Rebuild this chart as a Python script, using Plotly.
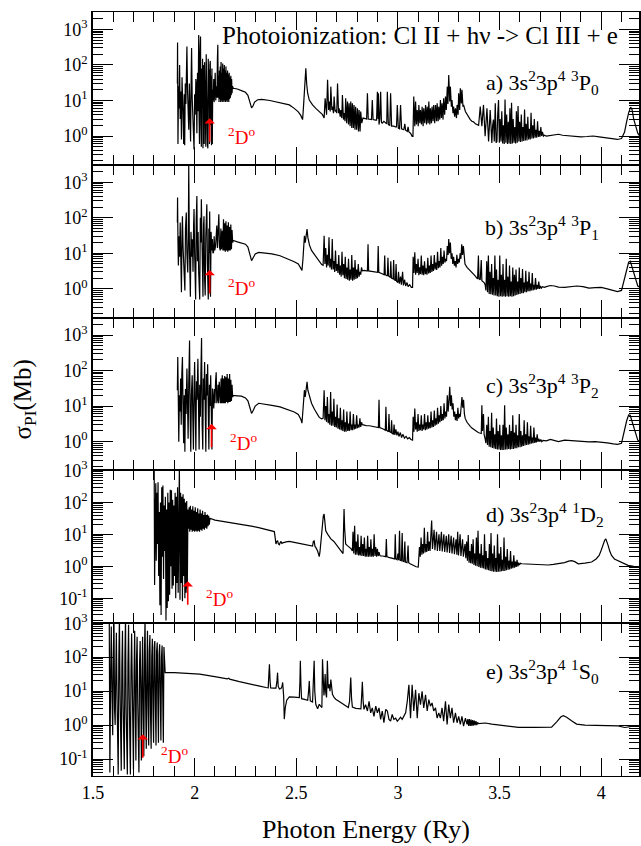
import plotly.graph_objects as go
from plotly.subplots import make_subplots

# ---------------- data: photon energy (Ry), cross section sigma_PI (Mb) ----------------
panel_a = [
    (1.915, 30), (1.916, 430), (1.918, 0.6), (1.921, 25), (1.923, 6), (1.926, 100), (1.929, 3), (1.932, 18),
    (1.935, 0.8), (1.938, 45), (1.940, 25), (1.943, 4), (1.946, 0.6), (1.949, 15), (1.951, 0.55), (1.954, 30),
    (1.957, 8), (1.960, 60), (1.962, 330), (1.965, 20), (1.968, 4), (1.971, 1.5), (1.974, 30), (1.977, 6),
    (1.980, 0.7), (1.983, 50), (1.985, 300), (1.988, 12), (1.991, 2), (1.994, 0.5), (1.997, 0.42), (2.000, 15),
    (2.003, 4), (2.006, 40), (2.008, 30), (2.011, 1.2), (2.014, 60), (2.017, 5), (2.020, 700), (2.022, 3),
    (2.024, 0.6), (2.026, 200), (2.029, 630), (2.031, 2), (2.033, 0.5), (2.035, 80), (2.037, 6), (2.039, 150),
    (2.041, 0.45), (2.043, 40), (2.045, 100), (2.047, 0.6), (2.049, 120), (2.051, 3), (2.053, 60), (2.055, 0.5),
    (2.057, 200), (2.059, 8), (2.061, 90), (2.063, 0.6), (2.065, 0.45), (2.067, 150), (2.069, 20), (2.071, 74),
    (2.073, 0.6), (2.075, 100), (2.077, 130), (2.079, 2), (2.081, 50), (2.083, 0.55), (2.085, 80), (2.087, 0.6),
    (2.089, 20), (2.091, 10), (2.094, 40), (2.096, 9), (2.098, 15), (2.101, 60), (2.104, 10), (2.107, 25),
    (2.110, 12), (2.112, 150), (2.114, 370), (2.116, 12), (2.118, 50), (2.120, 9), (2.122, 70), (2.124, 11),
    (2.126, 90), (2.128, 9), (2.130, 120), (2.132, 10), (2.134, 60), (2.136, 9), (2.138, 110), (2.140, 10),
    (2.142, 80), (2.144, 9), (2.146, 100), (2.148, 10), (2.150, 70), (2.152, 9), (2.154, 90), (2.156, 10),
    (2.158, 60), (2.160, 9), (2.162, 70), (2.164, 10), (2.166, 55), (2.168, 9), (2.170, 60), (2.172, 11),
    (2.174, 45), (2.176, 12), (2.178, 50), (2.180, 14), (2.182, 40), (2.184, 16), (2.186, 25),
    (2.190, 22), (2.21, 21), (2.23, 19), (2.25, 17), (2.262, 14), (2.272, 9), (2.280, 6.2), (2.287, 7),
    (2.295, 9), (2.31, 10.5), (2.33, 10.7), (2.37, 10), (2.41, 9), (2.45, 7.8), (2.466, 7.5), (2.49, 6.0),
    (2.51, 4.8), (2.522, 3.8), (2.531, 2.9), (2.535, 6), (2.539, 16), (2.543, 30), (2.547, 80), (2.551, 30),
    (2.556, 16), (2.564, 10.3), (2.58, 7.5), (2.596, 6), (2.612, 4.8), (2.629, 4.0), (2.637, 3.2),
    (2.642, 11.6), (2.649, 4.0), (2.654, 38), (2.659, 5.4), (2.662, 9.3), (2.667, 4.9), (2.670, 24.5), (2.675, 5.4),
    (2.678, 6.7), (2.683, 4.4), (2.686, 12.9), (2.691, 4.9), (2.694, 5.4), (2.699, 4.4), (2.703, 30), (2.708, 4.4),
    (2.711, 6.0), (2.716, 3.5), (2.719, 5.4), (2.724, 3.2), (2.727, 14.3), (2.732, 2.9), (2.735, 4.4), (2.740, 2.6),
    (2.743, 11.6), (2.748, 2.3), (2.752, 9.3), (2.757, 2.1), (2.760, 8.3), (2.765, 1.9), (2.768, 9.3), (2.773, 1.67),
    (2.776, 8.3), (2.781, 1.67), (2.784, 7.5), (2.789, 1.5), (2.792, 6.7), (2.797, 1.5), (2.801, 6.0), (2.806, 1.35),
    (2.809, 5.4), (2.814, 1.35), (2.817, 4.9), (2.822, 2.3), (2.828, 3.2),
    (2.840, 3.1), (2.846, 3.0), (2.850, 16), (2.854, 3.0), (2.865, 2.95), (2.870, 2.9), (2.874, 10.3), (2.878, 2.9),
    (2.890, 2.8), (2.895, 2.8), (2.899, 17.7), (2.902, 3), (2.904, 16), (2.907, 2.1), (2.911, 3), (2.915, 17.7),
    (2.919, 2.4), (2.923, 2.3), (2.931, 2.6), (2.940, 2.3), (2.945, 2.2), (2.948, 17.7), (2.953, 2.1), (2.960, 2.0),
    (2.964, 16), (2.969, 1.9), (2.975, 1.9), (2.980, 1.9), (2.988, 1.8), (2.993, 1.8), (2.997, 7.5), (3.002, 1.67),
    (3.008, 1.6), (3.013, 7.5), (3.018, 1.6), (3.024, 1.55), (3.029, 1.5), (3.034, 2.2), (3.038, 1.45), (3.046, 1.35),
    (3.050, 1.8), (3.054, 1.3), (3.062, 1.2), (3.070, 0.98),
    (3.074, 0.98), (3.078, 12.9), (3.083, 1.9), (3.087, 9.3), (3.091, 2.1), (3.095, 5.4), (3.100, 1.9), (3.103, 7.5),
    (3.108, 2.3), (3.111, 5.4), (3.116, 2.1), (3.119, 6.7), (3.124, 1.9), (3.127, 6.0), (3.132, 2.3), (3.136, 7.5),
    (3.141, 2.1), (3.144, 6.7), (3.149, 2.3), (3.152, 9.3), (3.157, 2.1), (3.160, 6.0), (3.165, 2.3), (3.168, 6.7),
    (3.173, 2.6), (3.176, 7.5), (3.181, 2.3), (3.185, 7.5), (3.190, 2.6), (3.193, 8.3), (3.198, 2.6), (3.201, 6.7),
    (3.206, 2.9), (3.209, 10.3), (3.214, 3.2), (3.217, 8.3), (3.222, 2.9), (3.225, 11.6), (3.230, 4.0), (3.234, 12.9),
    (3.238, 5.4), (3.243, 24.5), (3.246, 8), (3.250, 52), (3.255, 9.3), (3.258, 24.5), (3.263, 6.7), (3.266, 10.3),
    (3.271, 4.4), (3.274, 6.7), (3.279, 3.5), (3.283, 6.0), (3.288, 3.2), (3.291, 7.5), (3.296, 4.0), (3.299, 16),
    (3.304, 5.4), (3.307, 22), (3.312, 8.3), (3.315, 20), (3.320, 6.7), (3.323, 7.5), (3.332, 4.9), (3.340, 4.0),
    (3.348, 3.4), (3.356, 2.9), (3.364, 2.6), (3.372, 2.5), (3.381, 2.2), (3.389, 2.1), (3.397, 2.0), (3.405, 6.7),
    (3.410, 1.9), (3.413, 1.9), (3.421, 7.5), (3.426, 1.35), (3.429, 0.98), (3.438, 6.0), (3.443, 0.72), (3.446, 0.7),
    (3.454, 5.4), (3.459, 0.64), (3.462, 0.64), (3.466, 2), (3.470, 2.9), (3.474, 0.7), (3.479, 8.3), (3.483, 0.65),
    (3.487, 0.7), (3.491, 4), (3.495, 10.3),
    (3.499, 0.65), (3.503, 3), (3.507, 0.7), (3.511, 5), (3.515, 0.62), (3.519, 2), (3.523, 0.6), (3.527, 10.7),
    (3.531, 0.65), (3.535, 4), (3.539, 0.6), (3.543, 2.5), (3.547, 0.62), (3.551, 6), (3.555, 0.6), (3.559, 8.6),
    (3.563, 0.62), (3.567, 3), (3.571, 0.65), (3.575, 1.8), (3.579, 0.62), (3.583, 5), (3.587, 0.65), (3.591, 7),
    (3.595, 0.7), (3.599, 2.5), (3.603, 0.68), (3.607, 4), (3.611, 0.7), (3.615, 1.8), (3.619, 0.72), (3.623, 5.6),
    (3.627, 0.75), (3.631, 2.2), (3.635, 0.75), (3.639, 3.5), (3.643, 0.8), (3.647, 1.6), (3.651, 0.8), (3.655, 4.5),
    (3.659, 0.85), (3.663, 2), (3.667, 0.85), (3.671, 3), (3.675, 0.9), (3.679, 1.5), (3.683, 0.9), (3.687, 2.6),
    (3.691, 0.95), (3.695, 1.4), (3.699, 0.95), (3.703, 1.8), (3.707, 1.0), (3.711, 1.3), (3.716, 1.0), (3.720, 1.05),
    (3.73, 1.0), (3.75, 1.05), (3.77, 1.1), (3.79, 1.12), (3.81, 1.05), (3.84, 1.0), (3.87, 0.98), (3.90, 0.95),
    (3.93, 0.97), (3.96, 1.0), (3.99, 0.95), (4.02, 0.9), (4.05, 0.85), (4.08, 0.8), (4.10, 0.85), (4.115, 1.3),
    (4.125, 2.5), (4.135, 4.5), (4.145, 6.5), (4.152, 5.5), (4.16, 3), (4.17, 1.8), (4.18, 1.2), (4.19, 1.0),
]

panel_b = [
    (1.915, 74), (1.916, 370), (1.918, 20), (1.920, 4.5), (1.923, 30), (1.926, 8), (1.929, 74), (1.932, 3),
    (1.935, 0.8), (1.938, 40), (1.940, 110), (1.943, 15), (1.946, 7), (1.949, 2), (1.952, 0.9), (1.955, 50),
    (1.959, 140), (1.962, 10), (1.966, 2.9), (1.969, 30), (1.971, 3000), (1.974, 20), (1.977, 2), (1.979, 0.6),
    (1.982, 40), (1.986, 8), (1.989, 25), (1.992, 3), (1.995, 60), (1.997, 175), (2.000, 10), (2.003, 1.5),
    (2.005, 0.5), (2.008, 90), (2.011, 410), (2.014, 6), (2.017, 40), (2.020, 2.9), (2.022, 0.7), (2.025, 0.5),
    (2.028, 100), (2.031, 20), (2.033, 330), (2.036, 4), (2.039, 0.7), (2.041, 0.6), (2.044, 60), (2.046, 110),
    (2.049, 2), (2.052, 0.65), (2.055, 30), (2.058, 120), (2.060, 240), (2.063, 5), (2.065, 0.6), (2.067, 0.5),
    (2.070, 50), (2.072, 10), (2.074, 150), (2.076, 1.5), (2.078, 0.6), (2.081, 40), (2.084, 12), (2.087, 25),
    (2.090, 10), (2.093, 10.7), (2.096, 30), (2.099, 12), (2.103, 16), (2.106, 40), (2.109, 60), (2.112, 14),
    (2.115, 40), (2.119, 125), (2.122, 15), (2.126, 12), (2.129, 50), (2.132, 13), (2.136, 43), (2.139, 12),
    (2.142, 90), (2.145, 12), (2.148, 70), (2.151, 11), (2.154, 80), (2.157, 12), (2.160, 60), (2.163, 11),
    (2.166, 75), (2.169, 12), (2.172, 55), (2.175, 12), (2.178, 65), (2.181, 13), (2.184, 45), (2.187, 20),
    (2.190, 23), (2.21, 21), (2.23, 19.5), (2.25, 18), (2.262, 15), (2.272, 9), (2.280, 6.2), (2.288, 7.5),
    (2.298, 9.5), (2.315, 10.6), (2.34, 10.4), (2.38, 9.6), (2.42, 8.5), (2.46, 7), (2.49, 5.8), (2.51, 5),
    (2.523, 3.8), (2.528, 3.3), (2.533, 7), (2.537, 22), (2.540, 31), (2.544, 20), (2.548, 28), (2.553, 48),
    (2.557, 28), (2.565, 17), (2.575, 12), (2.59, 9), (2.605, 7), (2.613, 6.2), (2.625, 4.8), (2.632, 4.6),
    (2.637, 31), (2.641, 5), (2.645, 14), (2.649, 4), (2.653, 9), (2.657, 4.5), (2.661, 28), (2.665, 4),
    (2.669, 7), (2.673, 3.5), (2.677, 25), (2.681, 3.5), (2.685, 6), (2.689, 3), (2.693, 12), (2.697, 3.2),
    (2.701, 5), (2.705, 2.8), (2.709, 9), (2.713, 2.5), (2.717, 4.5), (2.721, 2.2), (2.725, 11), (2.729, 2.4),
    (2.733, 5), (2.737, 2), (2.741, 8), (2.745, 1.9), (2.749, 4), (2.753, 1.8), (2.757, 7), (2.761, 1.7),
    (2.765, 3.5), (2.769, 1.8), (2.773, 9), (2.777, 1.7), (2.781, 4), (2.785, 1.8), (2.789, 6.5), (2.793, 1.9),
    (2.797, 3.5), (2.801, 2), (2.805, 5), (2.809, 2.2), (2.813, 3), (2.817, 2.5), (2.821, 4), (2.825, 3.2),
    (2.835, 3.3), (2.845, 3.2), (2.850, 3.2), (2.853, 18), (2.856, 3.2), (2.870, 3.1), (2.885, 3.0), (2.900, 2.9),
    (2.903, 16), (2.906, 2.9), (2.920, 2.7), (2.932, 2.5), (2.935, 8.6), (2.938, 2.5), (2.948, 2.3), (2.951, 7.5),
    (2.954, 2.3), (2.962, 2.1), (2.965, 6), (2.968, 2.0), (2.976, 1.9), (2.979, 6.5), (2.982, 1.8), (2.988, 1.7),
    (2.991, 5), (2.994, 1.6), (3.000, 1.5), (3.003, 3), (3.007, 1.4), (3.013, 2.2), (3.017, 1.3), (3.023, 3),
    (3.027, 1.25), (3.033, 1.8), (3.038, 1.2), (3.045, 1.5), (3.050, 1.15), (3.058, 1.3), (3.066, 1.1), (3.072, 1.1),
    (3.075, 8), (3.079, 2.8), (3.083, 10.7), (3.087, 2.5), (3.091, 5), (3.095, 2.8), (3.099, 7), (3.103, 2.4),
    (3.107, 4), (3.111, 2.6), (3.115, 8.6), (3.119, 2.5), (3.123, 4.5), (3.127, 2.4), (3.131, 6), (3.135, 2.6),
    (3.139, 3.8), (3.143, 2.5), (3.147, 7.5), (3.151, 2.7), (3.155, 4.5), (3.159, 2.8), (3.163, 8.6), (3.167, 3),
    (3.171, 5), (3.175, 3.2), (3.179, 9), (3.183, 3.5), (3.187, 5.5), (3.191, 3.4), (3.195, 11), (3.199, 3.8),
    (3.203, 6), (3.207, 4), (3.211, 14), (3.215, 4.5), (3.219, 8), (3.223, 5), (3.227, 12), (3.231, 5.5),
    (3.235, 7), (3.239, 6), (3.243, 16), (3.247, 9), (3.250, 25), (3.254, 10), (3.258, 20), (3.262, 7),
    (3.266, 10), (3.270, 5), (3.274, 8), (3.278, 4.5), (3.282, 6), (3.286, 4), (3.290, 9), (3.294, 5),
    (3.298, 7), (3.302, 5.5), (3.306, 10), (3.310, 7), (3.314, 18), (3.318, 9), (3.322, 16), (3.326, 7),
    (3.330, 5), (3.340, 4.0), (3.348, 3.6), (3.356, 3.3), (3.364, 3), (3.372, 2.6), (3.380, 2.3), (3.388, 2.0),
    (3.392, 1.9), (3.396, 8.6), (3.399, 1.9), (3.405, 1.8), (3.410, 6.5), (3.413, 1.7), (3.418, 1.6), (3.424, 1.5),
    (3.429, 1.3),
    (3.433, 0.9), (3.437, 6), (3.441, 0.8), (3.445, 8.6), (3.449, 0.72), (3.453, 3), (3.457, 0.7), (3.461, 5),
    (3.465, 0.68), (3.469, 2), (3.473, 0.65), (3.477, 8.6), (3.481, 0.65), (3.485, 3.5), (3.489, 0.62), (3.493, 1.8),
    (3.497, 0.6), (3.501, 8.6), (3.505, 0.62), (3.509, 2.5), (3.513, 0.6), (3.517, 5), (3.521, 0.62), (3.525, 1.8),
    (3.529, 0.6), (3.533, 7), (3.537, 0.62), (3.541, 2.2), (3.545, 0.6), (3.549, 4.5), (3.553, 0.62), (3.557, 1.6),
    (3.561, 0.6), (3.565, 4), (3.569, 0.62), (3.573, 2.5), (3.577, 0.65), (3.581, 3.5), (3.585, 0.67), (3.589, 1.6),
    (3.593, 0.7), (3.597, 4), (3.601, 0.72), (3.605, 2), (3.609, 0.75), (3.613, 3.6), (3.617, 0.75), (3.621, 1.5),
    (3.625, 0.8), (3.629, 3.2), (3.633, 0.8), (3.637, 1.6), (3.641, 0.85), (3.645, 3), (3.649, 0.85), (3.653, 1.4),
    (3.657, 0.9), (3.661, 2.8), (3.665, 0.9), (3.669, 1.3), (3.673, 0.95), (3.677, 2.0), (3.681, 0.95), (3.685, 1.3),
    (3.689, 1.0), (3.693, 1.6), (3.697, 1.0), (3.701, 1.2), (3.706, 1.05), (3.711, 1.15), (3.716, 1.1), (3.72, 1.1),
    (3.73, 1.15), (3.75, 1.24), (3.77, 1.2), (3.79, 1.12), (3.82, 1.1), (3.85, 1.15), (3.88, 1.2), (3.91, 1.15),
    (3.94, 1.05), (3.97, 1.08), (4.00, 1.1), (4.03, 1.0), (4.06, 0.9), (4.08, 0.84), (4.10, 0.9), (4.115, 1.9),
    (4.125, 3.5), (4.135, 5.6), (4.143, 6), (4.150, 4.5), (4.16, 2.9), (4.17, 1.8), (4.18, 1.2), (4.19, 1.1),
]

panel_c = [
    (1.915, 28), (1.917, 240), (1.920, 10), (1.922, 1.0), (1.925, 20), (1.928, 7), (1.931, 60), (1.934, 3),
    (1.937, 80), (1.940, 240), (1.943, 8), (1.946, 0.9), (1.949, 20), (1.952, 0.52), (1.955, 30), (1.958, 6),
    (1.962, 115), (1.965, 12), (1.968, 1.2), (1.971, 40), (1.975, 700), (1.978, 5), (1.981, 0.52), (1.984, 20),
    (1.988, 74), (1.991, 5), (1.994, 0.6), (1.997, 30), (2.000, 175), (2.003, 8), (2.006, 0.55), (2.009, 50),
    (2.012, 15), (2.016, 215), (2.019, 4), (2.022, 0.6), (2.025, 40), (2.028, 5), (2.031, 100), (2.034, 830),
    (2.037, 3), (2.040, 0.6), (2.043, 60), (2.046, 15), (2.049, 175), (2.052, 2), (2.055, 0.52), (2.058, 80),
    (2.061, 20), (2.064, 150), (2.067, 1.5), (2.070, 0.6), (2.073, 40), (2.076, 10), (2.079, 74), (2.082, 2),
    (2.085, 0.6), (2.088, 31), (2.091, 12), (2.094, 8.6), (2.097, 30), (2.100, 12), (2.103, 50), (2.106, 90),
    (2.109, 12), (2.112, 15), (2.115, 40), (2.118, 12), (2.121, 48), (2.124, 15), (2.127, 12), (2.130, 60),
    (2.133, 12), (2.136, 74), (2.139, 12), (2.142, 60), (2.145, 12), (2.148, 70), (2.151, 12), (2.154, 65),
    (2.157, 13), (2.160, 80), (2.163, 12), (2.166, 60), (2.169, 13), (2.172, 80), (2.175, 13), (2.178, 55),
    (2.181, 14), (2.184, 40), (2.187, 18),
    (2.190, 20), (2.21, 19.5), (2.23, 19), (2.25, 17), (2.262, 14), (2.272, 9), (2.280, 6.2), (2.288, 7.5),
    (2.298, 10), (2.315, 12), (2.34, 11.5), (2.38, 10.5), (2.42, 9.5), (2.46, 8), (2.49, 6.8), (2.51, 5.8),
    (2.523, 4.2), (2.528, 3.3), (2.533, 8), (2.537, 20), (2.540, 28), (2.544, 18), (2.548, 30), (2.553, 48),
    (2.557, 28), (2.565, 18), (2.575, 12), (2.59, 8), (2.605, 6), (2.613, 4.8), (2.625, 4.4), (2.632, 4.5),
    (2.637, 28), (2.641, 4), (2.645, 10), (2.649, 3.6), (2.653, 18), (2.657, 3.3), (2.661, 6), (2.665, 3),
    (2.669, 25), (2.673, 2.8), (2.677, 7), (2.681, 2.8), (2.685, 16), (2.689, 2.6), (2.693, 5), (2.697, 2.5),
    (2.701, 11), (2.705, 2.3), (2.709, 4.5), (2.713, 2.2), (2.717, 9), (2.721, 2.1), (2.725, 4), (2.729, 2),
    (2.733, 8), (2.737, 1.9), (2.741, 3.5), (2.745, 1.9), (2.749, 7), (2.753, 2), (2.757, 3.2), (2.761, 2),
    (2.765, 7), (2.769, 2.1), (2.773, 3), (2.777, 2.1), (2.781, 6), (2.785, 2.2), (2.789, 3), (2.793, 2.3),
    (2.797, 5.5), (2.801, 2.4), (2.805, 3), (2.809, 2.5), (2.813, 4.5), (2.817, 2.6), (2.821, 3.5), (2.825, 3.0),
    (2.835, 2.9), (2.845, 2.8), (2.860, 2.8), (2.875, 2.7), (2.890, 2.6), (2.904, 2.5), (2.907, 15), (2.910, 2.5),
    (2.925, 2.3), (2.938, 2.1), (2.941, 9.6), (2.944, 2.1), (2.953, 1.9), (2.956, 6), (2.959, 1.9), (2.966, 1.8),
    (2.969, 4), (2.972, 1.7), (2.978, 1.6), (2.981, 3), (2.985, 1.55), (2.990, 2.2), (2.995, 1.5), (3.000, 1.9),
    (3.005, 1.4), (3.012, 1.8), (3.018, 1.3), (3.025, 1.6), (3.032, 1.25), (3.040, 1.4), (3.048, 1.2), (3.056, 1.3),
    (3.064, 1.15), (3.072, 1.1),
    (3.075, 5), (3.079, 1.9), (3.083, 8.6), (3.087, 2.2), (3.091, 3.5), (3.095, 1.9), (3.099, 6), (3.103, 2),
    (3.107, 3), (3.111, 2.1), (3.115, 5.5), (3.119, 2), (3.123, 3), (3.127, 2.2), (3.131, 6), (3.135, 2.1),
    (3.139, 3.5), (3.143, 2.2), (3.147, 5.5), (3.151, 2.3), (3.155, 3.5), (3.159, 2.4), (3.163, 7), (3.167, 2.5),
    (3.171, 4), (3.175, 2.6), (3.179, 7.5), (3.183, 2.8), (3.187, 4.5), (3.191, 3), (3.195, 9), (3.199, 3.2),
    (3.203, 5.5), (3.207, 3.5), (3.211, 10), (3.215, 3.8), (3.219, 6), (3.223, 4), (3.227, 12), (3.231, 4.5),
    (3.235, 7), (3.239, 5), (3.243, 20), (3.247, 7), (3.251, 14), (3.255, 35), (3.259, 10), (3.263, 20),
    (3.267, 8), (3.271, 12), (3.275, 5), (3.279, 7), (3.283, 4), (3.287, 6), (3.291, 3.8), (3.295, 9),
    (3.299, 4.5), (3.303, 6), (3.307, 5), (3.311, 14), (3.315, 18), (3.319, 9), (3.323, 15), (3.327, 6),
    (3.331, 4.5), (3.340, 3.5), (3.348, 3), (3.356, 2.7), (3.364, 2.4), (3.372, 2.2), (3.380, 2.0), (3.388, 1.9),
    (3.395, 1.8), (3.402, 1.75), (3.410, 1.7), (3.413, 10.6), (3.416, 2), (3.421, 6), (3.424, 1.6), (3.429, 1.2),
    (3.433, 0.9), (3.437, 3), (3.441, 0.8), (3.445, 5), (3.449, 0.72), (3.453, 2), (3.457, 0.7), (3.461, 6.5),
    (3.465, 0.66), (3.469, 2.5), (3.473, 0.64), (3.477, 1.6), (3.481, 0.62), (3.485, 4.5), (3.489, 0.6), (3.493, 2),
    (3.497, 0.6), (3.501, 3), (3.505, 0.58), (3.509, 1.5), (3.513, 0.58), (3.517, 3), (3.521, 0.58), (3.525, 10.6),
    (3.529, 0.6), (3.533, 2.5), (3.537, 0.6), (3.541, 1.6), (3.545, 0.62), (3.549, 3), (3.553, 0.6), (3.557, 2),
    (3.561, 0.62), (3.565, 5.5), (3.569, 0.62), (3.573, 1.8), (3.577, 0.65), (3.581, 3), (3.585, 0.65), (3.589, 1.5),
    (3.593, 0.7), (3.597, 6), (3.601, 0.7), (3.605, 2), (3.609, 0.72), (3.613, 1.5), (3.617, 0.75), (3.621, 4),
    (3.625, 0.78), (3.629, 1.6), (3.633, 0.8), (3.637, 3.5), (3.641, 0.82), (3.645, 1.4), (3.649, 0.85), (3.653, 2.8),
    (3.657, 0.88), (3.661, 1.3), (3.665, 0.9), (3.669, 2.5), (3.673, 0.92), (3.677, 1.3), (3.681, 0.95), (3.685, 1.6),
    (3.689, 0.98), (3.693, 1.2), (3.698, 1.0), (3.703, 1.15), (3.708, 1.0), (3.714, 1.08), (3.72, 1.05),
    (3.73, 1.05), (3.75, 1.16), (3.77, 1.1), (3.79, 1.0), (3.82, 1.1), (3.85, 1.06), (3.88, 1.02), (3.91, 1.0),
    (3.94, 0.98), (3.97, 1.0), (4.00, 0.97), (4.03, 0.92), (4.06, 0.86), (4.08, 0.84), (4.10, 0.9), (4.115, 2.4),
    (4.125, 3.8), (4.135, 5.6), (4.143, 5.5), (4.150, 4), (4.16, 2.6), (4.17, 1.6), (4.18, 1.1), (4.19, 1.0),
]

panel_d = [
    (1.801, 1500), (1.803, 0.26), (1.806, 30), (1.809, 400), (1.811, 1.5), (1.814, 200), (1.817, 5), (1.820, 425),
    (1.823, 0.5), (1.826, 50), (1.829, 0.06), (1.832, 100), (1.835, 0.03), (1.838, 300), (1.841, 2), (1.844, 340),
    (1.847, 0.4), (1.850, 80), (1.853, 3), (1.856, 150), (1.859, 0.02), (1.862, 60), (1.865, 0.05), (1.868, 200),
    (1.871, 0.08), (1.874, 100), (1.877, 0.13), (1.880, 250), (1.883, 1), (1.886, 240), (1.889, 0.2), (1.892, 120),
    (1.895, 0.25), (1.898, 80), (1.901, 0.5), (1.904, 200), (1.907, 0.1), (1.910, 150), (1.913, 0.3), (1.916, 300),
    (1.919, 0.15), (1.922, 100), (1.925, 1500), (1.928, 0.09), (1.931, 200), (1.934, 0.3), (1.937, 150), (1.940, 0.08),
    (1.943, 180), (1.946, 0.5), (1.949, 130), (1.952, 0.1), (1.955, 100), (1.958, 0.15), (1.961, 110), (1.964, 0.2),
    (1.967, 60), (1.970, 15), (1.973, 70), (1.976, 12), (1.979, 78), (1.982, 14), (1.985, 60), (1.988, 12),
    (1.991, 75), (1.994, 13), (1.997, 55), (2.000, 12), (2.003, 70), (2.006, 13), (2.009, 50), (2.012, 12),
    (2.015, 65), (2.018, 13), (2.021, 45), (2.024, 12), (2.027, 60), (2.030, 14), (2.033, 45), (2.036, 13),
    (2.039, 55), (2.042, 15), (2.045, 40), (2.048, 14), (2.051, 50), (2.054, 16), (2.057, 40), (2.060, 15),
    (2.063, 42), (2.066, 18), (2.069, 38), (2.072, 20), (2.075, 32),
    (2.10, 28), (2.13, 26), (2.16, 25), (2.188, 23.6), (2.22, 21), (2.25, 19.5), (2.286, 17.8), (2.32, 16),
    (2.351, 14), (2.375, 13), (2.392, 12.2), (2.396, 8), (2.400, 5.0), (2.404, 6), (2.408, 6.4), (2.412, 5),
    (2.417, 4.7), (2.421, 5.5), (2.425, 6), (2.429, 5.2), (2.433, 5.4), (2.45, 5.8), (2.466, 6), (2.49, 5.6),
    (2.515, 5.2), (2.55, 4.7), (2.580, 4.3), (2.584, 6), (2.588, 6.2), (2.592, 4.2), (2.596, 3.9), (2.605, 3),
    (2.613, 2.0), (2.617, 3), (2.621, 5.7), (2.625, 15), (2.629, 30), (2.633, 38), (2.637, 43), (2.641, 20),
    (2.645, 13), (2.655, 10), (2.670, 7.2), (2.685, 6), (2.694, 5), (2.710, 3.8), (2.725, 2.8), (2.730, 2.5),
    (2.733, 20), (2.735, 62), (2.738, 15), (2.741, 6), (2.743, 5), (2.750, 4.5), (2.760, 4), (2.770, 3.5),
    (2.776, 3),
    (2.779, 12), (2.783, 2.5), (2.787, 18.7), (2.791, 2.3), (2.795, 6), (2.799, 2.3), (2.803, 10), (2.807, 2.2),
    (2.811, 4), (2.815, 2.2), (2.819, 9), (2.823, 2.1), (2.827, 5), (2.831, 2.1), (2.835, 8), (2.839, 2),
    (2.843, 3.5), (2.847, 2), (2.851, 9), (2.855, 2), (2.859, 4), (2.863, 2), (2.867, 7), (2.871, 2),
    (2.875, 3.5), (2.879, 2), (2.883, 10), (2.887, 2.1), (2.891, 4), (2.895, 2), (2.899, 3.5), (2.903, 2.1),
    (2.907, 2.8), (2.911, 2.2), (2.915, 2.1),
    (2.925, 2.1), (2.935, 2.0), (2.940, 2.0), (2.943, 7.2), (2.946, 2.0), (2.955, 1.9), (2.965, 1.8), (2.975, 1.75),
    (2.984, 1.7), (2.987, 10), (2.990, 1.7), (2.996, 1.6), (3.000, 2.5), (3.004, 1.55), (3.008, 13), (3.011, 1.55),
    (3.017, 1.5), (3.021, 11), (3.024, 1.45), (3.030, 1.4), (3.034, 6), (3.037, 1.35), (3.045, 1.3), (3.050, 4.5),
    (3.053, 1.3), (3.060, 1.2), (3.070, 1.1), (3.080, 1.0), (3.090, 0.97), (3.100, 0.95),
    (3.106, 4), (3.110, 2), (3.114, 8), (3.118, 2.3), (3.122, 5), (3.126, 2.5), (3.130, 16), (3.134, 2.7),
    (3.138, 5), (3.142, 2.8), (3.146, 12), (3.150, 3), (3.154, 6), (3.158, 3), (3.162, 10), (3.166, 27),
    (3.170, 3.5), (3.174, 7), (3.178, 14), (3.182, 3.2), (3.186, 6), (3.190, 12), (3.194, 3), (3.198, 5),
    (3.202, 10), (3.206, 3), (3.210, 5.5), (3.214, 12), (3.218, 2.9), (3.222, 5), (3.226, 10), (3.230, 2.8),
    (3.234, 4.5), (3.238, 9), (3.242, 2.7), (3.246, 6), (3.250, 10), (3.254, 2.6), (3.258, 4.5), (3.262, 9),
    (3.266, 2.5), (3.270, 4.5), (3.274, 8), (3.278, 2.4), (3.282, 4), (3.286, 7), (3.290, 2.3), (3.294, 12),
    (3.298, 2.2), (3.302, 4), (3.306, 10), (3.310, 2.1), (3.314, 4), (3.318, 7), (3.322, 2.0), (3.326, 3.5),
    (3.330, 5), (3.334, 1.8),
    (3.338, 6), (3.342, 1.5), (3.346, 9.6), (3.350, 1.3), (3.354, 3), (3.358, 1.25), (3.362, 5), (3.366, 1.2),
    (3.370, 7), (3.374, 1.1), (3.378, 2.5), (3.382, 1.05), (3.386, 8), (3.390, 1.0), (3.394, 13), (3.398, 0.95),
    (3.402, 2.5), (3.406, 0.9), (3.410, 5), (3.414, 0.88), (3.418, 2.2), (3.422, 0.85), (3.426, 10), (3.430, 0.8),
    (3.434, 3), (3.438, 0.78), (3.442, 1.8), (3.446, 0.75), (3.450, 5), (3.454, 0.72), (3.458, 11), (3.462, 0.7),
    (3.466, 2.5), (3.470, 0.68), (3.474, 4.5), (3.478, 0.68), (3.482, 1.8), (3.486, 0.67), (3.490, 10), (3.494, 0.68),
    (3.498, 2.5), (3.502, 0.68), (3.506, 4), (3.510, 0.7), (3.514, 1.6), (3.518, 0.72), (3.522, 8), (3.526, 0.72),
    (3.530, 2), (3.534, 0.75), (3.538, 3.5), (3.542, 0.78), (3.546, 1.5), (3.550, 0.8), (3.554, 3), (3.558, 0.85),
    (3.562, 1.4), (3.566, 0.88), (3.570, 2.2), (3.574, 0.9), (3.578, 1.4), (3.582, 0.95), (3.586, 1.6), (3.590, 1.0),
    (3.594, 1.3), (3.598, 1.1), (3.603, 1.25), (3.609, 1.2),
    (3.64, 1.18), (3.675, 1.15), (3.71, 1.12), (3.74, 1.1), (3.765, 1.15), (3.789, 1.2), (3.82, 1.3), (3.84, 1.45),
    (3.854, 1.5), (3.87, 1.4), (3.887, 1.2), (3.92, 1.25), (3.953, 1.36), (3.975, 1.7), (3.990, 2.2), (4.000, 3.2),
    (4.010, 5), (4.017, 6.5), (4.023, 7.2), (4.028, 6), (4.034, 4.5), (4.042, 3), (4.051, 2.2), (4.065, 1.7),
    (4.083, 1.5), (4.10, 1.3), (4.132, 1.07), (4.16, 1.0), (4.19, 0.95),
]

panel_e = [
    (1.580, 1500), (1.583, 0.04), (1.587, 40), (1.590, 800), (1.594, 5), (1.597, 0.5), (1.600, 100), (1.603, 1500),
    (1.606, 3), (1.609, 1.0), (1.612, 30), (1.615, 520), (1.618, 8), (1.621, 0.3), (1.624, 0.035), (1.627, 80),
    (1.630, 1500), (1.633, 10), (1.636, 0.4), (1.639, 0.045), (1.642, 50), (1.645, 600), (1.648, 5), (1.651, 0.1),
    (1.654, 0.05), (1.657, 100), (1.660, 1500), (1.663, 3), (1.666, 0.2), (1.669, 0.035), (1.672, 60), (1.675, 900),
    (1.678, 8), (1.681, 0.06), (1.684, 0.035), (1.687, 40), (1.690, 500), (1.693, 20), (1.696, 0.5), (1.699, 0.05),
    (1.702, 30), (1.705, 600), (1.708, 4), (1.711, 0.09), (1.714, 80), (1.717, 400), (1.720, 5), (1.723, 0.1),
    (1.726, 0.04), (1.729, 60), (1.732, 300), (1.735, 10), (1.738, 0.09), (1.741, 20), (1.744, 400), (1.747, 2),
    (1.750, 0.12), (1.753, 100), (1.756, 1500), (1.759, 5), (1.762, 0.2), (1.765, 40), (1.768, 600), (1.771, 3),
    (1.774, 0.25), (1.777, 150), (1.780, 450), (1.783, 2), (1.786, 0.2), (1.789, 100), (1.792, 350), (1.795, 3),
    (1.798, 0.3), (1.801, 200), (1.804, 300), (1.807, 4), (1.810, 0.25), (1.813, 150), (1.816, 270), (1.819, 5),
    (1.822, 0.3), (1.825, 120), (1.828, 240), (1.831, 8), (1.834, 0.35), (1.837, 100), (1.840, 220), (1.843, 10),
    (1.846, 0.3), (1.849, 200), (1.852, 60), (1.855, 35),
    (1.90, 35), (1.959, 33.8), (2.025, 31.5), (2.106, 26.4), (2.160, 23), (2.168, 24), (2.172, 22.5), (2.22, 19),
    (2.270, 16), (2.320, 14), (2.351, 12.8), (2.362, 12.5), (2.365, 30), (2.368, 62), (2.371, 20), (2.374, 12.5),
    (2.390, 12.3), (2.400, 12.3), (2.405, 20), (2.408, 35), (2.411, 14), (2.417, 11.5), (2.425, 12), (2.430, 14),
    (2.433, 18), (2.436, 10), (2.438, 7), (2.441, 1.5), (2.446, 3.3), (2.453, 5.4), (2.466, 6.8), (2.49, 6.7),
    (2.515, 6.5), (2.518, 20), (2.520, 78), (2.523, 15), (2.526, 6), (2.545, 5.6), (2.556, 5.4), (2.560, 9),
    (2.564, 20), (2.567, 8), (2.569, 5.2), (2.580, 4.8), (2.584, 20), (2.588, 78), (2.591, 10), (2.596, 4.1),
    (2.605, 3), (2.613, 4.1), (2.620, 3.6), (2.626, 3.3), (2.629, 87), (2.632, 10), (2.636, 7.5), (2.639, 12),
    (2.642, 32), (2.645, 9), (2.649, 6.5), (2.653, 78), (2.657, 12), (2.662, 16), (2.666, 10), (2.670, 22),
    (2.674, 10), (2.678, 8.1), (2.686, 6.5), (2.694, 5.8), (2.715, 4.8), (2.735, 4.1), (2.756, 3.3), (2.762, 5),
    (2.768, 25), (2.772, 6), (2.776, 3.4), (2.793, 3.1), (2.810, 3.0), (2.818, 3.0), (2.822, 8), (2.825, 19),
    (2.829, 5), (2.833, 2.9), (2.841, 4.0), (2.850, 2.6), (2.858, 5.0), (2.866, 2.3), (2.874, 3.2), (2.882, 1.8),
    (2.891, 3.6), (2.899, 2.3), (2.907, 3.2), (2.915, 1.47), (2.923, 2.6), (2.931, 1.17), (2.940, 2.9), (2.948, 2.6),
    (2.956, 1.47), (2.964, 1.3), (2.972, 2.05), (2.980, 1.47), (2.989, 1.6), (2.997, 1.3), (3.005, 1.47), (3.013, 1.7),
    (3.021, 1.47), (3.029, 1.8), (3.038, 2.3), (3.046, 5.0), (3.054, 15.4), (3.062, 1.6), (3.070, 15.4), (3.078, 2.6),
    (3.087, 11), (3.095, 1.6), (3.103, 8.7), (3.111, 4.0), (3.119, 9.8), (3.127, 3.2), (3.136, 7.8), (3.144, 2.6),
    (3.152, 5.6), (3.160, 3.6), (3.168, 4.5), (3.176, 2.6), (3.185, 3.2), (3.193, 1.6), (3.201, 2.3), (3.209, 1.6),
    (3.217, 3.2), (3.225, 1.3), (3.234, 5.0), (3.242, 1.05), (3.250, 4.0), (3.258, 1.6), (3.266, 3.2), (3.274, 1.17),
    (3.283, 2.3), (3.291, 1.17), (3.299, 1.8), (3.307, 1.05), (3.315, 1.8), (3.323, 0.93), (3.332, 1.6), (3.340, 1.05),
    (3.344, 1.5), (3.348, 0.95), (3.352, 1.5), (3.356, 0.95), (3.360, 1.45), (3.364, 0.95), (3.368, 1.4), (3.372, 0.97),
    (3.376, 1.35), (3.380, 1.0), (3.384, 1.3), (3.388, 1.0), (3.392, 1.2), (3.397, 1.1),
    (3.43, 1.15), (3.462, 1.07), (3.50, 1.0), (3.528, 0.96), (3.56, 0.9), (3.593, 0.85), (3.675, 0.85), (3.740, 0.87),
    (3.756, 0.87), (3.781, 1.25), (3.802, 1.76), (3.814, 1.88), (3.830, 1.7), (3.854, 1.34), (3.879, 1.07),
    (3.920, 1.0), (4.001, 1.0), (4.083, 0.95), (4.116, 0.85), (4.149, 0.92), (4.19, 0.95),
]

panel_data = [panel_a, panel_b, panel_c, panel_d, panel_e]

panel_labels = [
    "a) 3s<sup>2</sup>3p<sup>4</sup> <sup>3</sup>P<sub>0</sub>",
    "b) 3s<sup>2</sup>3p<sup>4</sup> <sup>3</sup>P<sub>1</sub>",
    "c) 3s<sup>2</sup>3p<sup>4</sup> <sup>3</sup>P<sub>2</sub>",
    "d) 3s<sup>2</sup>3p<sup>4</sup> <sup>1</sup>D<sub>2</sub>",
    "e) 3s<sup>2</sup>3p<sup>4</sup> <sup>1</sup>S<sub>0</sub>",
]

# 2D^o threshold energy (Ry) marked in each panel
threshold_E = [2.074, 2.074, 2.083, 1.966, 1.745]

title_text = "Photoionization: Cl II + hν -> Cl III + e"
x_title = "Photon Energy (Ry)"
y_title = "σ<sub>PI</sub>(Mb)"

# ---------------- axes / style settings ----------------
FONT = "Liberation Serif, Times New Roman, serif"
y_ranges = [[-0.81, 3.49], [-0.81, 3.49], [-0.81, 3.49], [-1.78, 3.001], [-1.5, 3.001]]
y_tickvals = [0.1, 1, 10, 100, 1000]
y_ticktext = ["10<sup>-1</sup>", "10<sup>0</sup>", "10<sup>1</sup>", "10<sup>2</sup>", "10<sup>3</sup>"]
y_minor_vals = [m * 10.0 ** k for k in range(-2, 4) for m in range(2, 10)]
arrow_tip_log = [0.5, 0.53, 0.5, -0.47, -0.27]
label_log = [0.0, 0.06, 0.0, -1.0, -0.88]
label_y = [0.541, 0.587, 0.554, 0.711, 0.684]

fig = make_subplots(rows=5, cols=1, shared_xaxes=True, vertical_spacing=0)

for i, pts in enumerate(panel_data):
    fig.add_trace(
        go.Scatter(x=[p[0] for p in pts], y=[p[1] for p in pts], mode="lines",
                   line=dict(color="black", width=1.2), showlegend=False, hoverinfo="skip"),
        row=i + 1, col=1,
    )

for i in range(5):
    fig.update_xaxes(
        row=i + 1, col=1,
        range=[1.5, 4.186], showline=True, linecolor="black", linewidth=1.1, mirror="ticks",
        ticks="inside", ticklen=18, tickwidth=1.3, tickcolor="black",
        tick0=1.5, dtick=0.5, showgrid=False, zeroline=False,
        minor=dict(ticks="inside", ticklen=10, tickwidth=1.2, tickcolor="black", dtick=0.1, tick0=1.5, showgrid=False),
        tickfont=dict(family=FONT, size=18, color="black"),
        showticklabels=(i == 4),
    )
    fig.update_yaxes(
        row=i + 1, col=1,
        type="log", range=y_ranges[i], showline=True, linecolor="black", linewidth=1.5, mirror="ticks",
        ticks="inside", ticklen=20, tickwidth=1.3, tickcolor="black",
        tickmode="array", tickvals=y_tickvals, ticktext=y_ticktext,
        showgrid=False, zeroline=False,
        minor=dict(ticks="inside", ticklen=10, tickwidth=1.0, tickcolor="black",
                   tickmode="array", tickvals=y_minor_vals, showgrid=False),
        tickfont=dict(family=FONT, size=18, color="black"),
    )

annotations = []
for i in range(5):
    xr = "x" if i == 0 else f"x{i + 1}"
    yr = "y" if i == 0 else f"y{i + 1}"
    annotations.append(dict(
        text=panel_labels[i], xref=f"{xr} domain", yref=f"{yr} domain",
        x=0.931 if i != 3 else 0.94, y=label_y[i], xanchor="right", yanchor="middle",
        showarrow=False, font=dict(family=FONT, size=22, color="black"),
    ))
    annotations.append(dict(
        text="", x=threshold_E[i], y=arrow_tip_log[i], xref=xr, yref=yr,
        showarrow=True, ax=0, ay=25, arrowhead=1, arrowsize=1.1, arrowwidth=1.6, arrowcolor="red",
    ))
    annotations.append(dict(
        text="<sup>2</sup>D<sup>o</sup>", x=threshold_E[i] + 0.08, y=label_log[i], xref=xr, yref=yr,
        xanchor="left", yanchor="middle", showarrow=False,
        font=dict(family=FONT, size=19, color="red"),
    ))

annotations.append(dict(
    text=title_text, xref="x domain", yref="y domain", x=0.965, y=0.847,
    xanchor="right", yanchor="middle", showarrow=False,
    font=dict(family=FONT, size=25, color="black"),
))
annotations.append(dict(
    text=x_title, xref="paper", yref="paper", x=0.5, y=-0.0704,
    xanchor="center", yanchor="middle", showarrow=False,
    font=dict(family=FONT, size=26, color="black"),
))
annotations.append(dict(
    text=y_title, xref="paper", yref="paper", x=-0.126, y=0.493, textangle=-90,
    xanchor="center", yanchor="middle", showarrow=False,
    font=dict(family=FONT, size=25, color="black"),
))

fig.update_layout(
    width=641, height=846,
    margin=dict(l=93, r=0, t=9, b=70),
    paper_bgcolor="white", plot_bgcolor="white",
    annotations=annotations,
    showlegend=False,
)

fig.write_html("out.html")
